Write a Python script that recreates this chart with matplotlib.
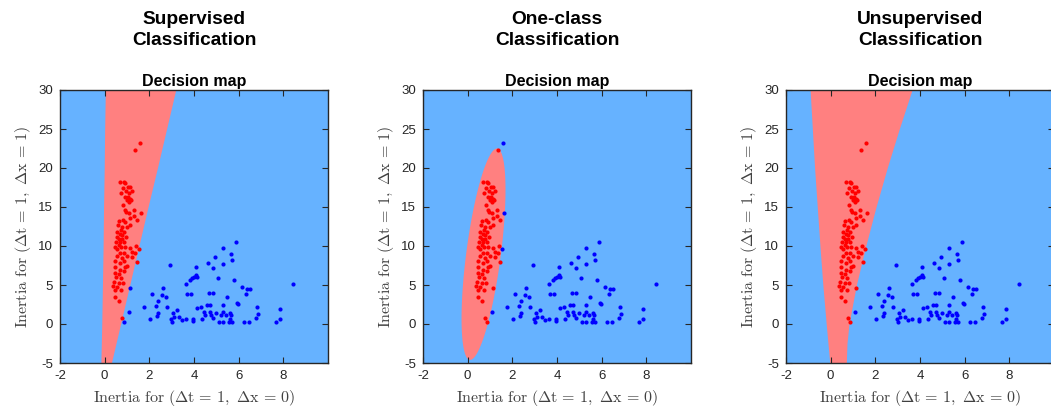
import numpy as np
import matplotlib
matplotlib.use("Agg")
import matplotlib.pyplot as plt

## Data ##
# red class points
red_x = [1.38, 0.67, 0.88, 0.93, 1.05, 1.15, 0.82, 1.23, 1.08, 0.97, 0.75, 1.05, 1.0, 1.15, 0.9,
         0.82, 1.08, 1.2, 1.33, 0.9, 0.97, 1.08, 1.15, 1.3, 1.45, 0.63, 0.82, 0.93, 0.58, 0.78,
         1.0, 1.15, 0.75, 0.55, 0.88, 0.7, 0.78, 0.97, 0.55, 0.63, 0.78, 0.52, 0.7, 0.88, 0.63,
         0.48, 0.75, 0.93, 0.55, 1.12, 1.42, 1.35, 1.23, 0.67, 0.85, 0.55, 1.0, 0.78, 1.23, 0.48,
         0.67, 0.88, 1.45, 0.93, 1.0, 0.48, 0.7, 0.85, 0.45, 0.63, 0.52, 0.75, 0.4, 0.63, 0.82,
         0.37, 0.55, 0.48, 0.75, 0.48, 0.63, 0.78]
red_y = [22.3, 18.25, 18.25, 18.1, 17.5, 17.5, 17.4, 17.0, 16.85, 17.0, 16.85, 16.3, 15.9, 16.0, 16.3,
         15.2, 15.7, 15.9, 14.6, 14.6, 14.3, 14.2, 13.55, 13.8, 13.3, 13.2, 13.3, 13.1, 12.7, 12.5,
         12.4, 12.7, 12.05, 11.85, 11.85, 11.6, 11.4, 11.2, 11.2, 10.85, 10.85, 10.55, 10.55, 10.55, 10.1,
         9.9, 9.9, 9.9, 9.6, 9.7, 10.0, 9.05, 9.25, 9.05, 9.05, 8.7, 8.7, 8.4, 8.6, 8.1,
         7.85, 8.1, 8.0, 7.35, 7.45, 7.35, 6.9, 6.85, 6.5, 6.4, 6.0, 5.85, 5.4, 5.2, 5.3,
         4.9, 4.7, 4.35, 4.3, 3.4, 3.0, 0.75]

# blue class points
blue_x = [1.08, 1.78, 2.02, 2.12, 2.32, 2.38, 2.38, 2.35, 2.55, 2.62, 2.73, 2.77, 2.92, 2.95, 3.03,
          3.07, 3.1, 3.25, 3.33, 3.48, 3.63, 3.65, 3.7, 3.82, 3.85, 3.93, 3.96, 3.96, 4.0, 4.08,
          4.1, 4.15, 4.12, 4.3, 4.38, 4.46, 4.5, 4.6, 4.63, 4.65, 4.72, 4.72, 4.78, 4.83, 4.85,
          4.85, 4.95, 5.0, 5.08, 5.13, 5.23, 5.28, 5.32, 5.31, 5.32, 5.32, 5.42, 5.47, 5.55, 5.62,
          5.62, 5.65, 5.65, 5.7, 5.7, 5.8, 5.9, 5.92, 5.98, 6.17, 6.25, 6.32, 6.37, 6.52, 6.48,
          6.78, 6.82, 6.85, 7.68, 7.85, 7.87, 8.43]
blue_y = [1.5, 2.2, 0.6, 3.85, 2.3, 2.95, 1.35, 1.05, 3.7, 4.65, 3.5, 2.2, 7.55, 0.6, 0.3,
          1.35, 0.95, 1.8, 0.95, 0.5, 0.6, 5.1, 3.8, 5.7, 3.9, 5.85, 0.4, 0.6, 6.05, 7.35,
          6.3, 6.0, 2.0, 2.2, 0.6, 1.6, 1.15, 2.45, 7.8, 4.0, 2.5, 1.6, 1.15, 7.15, 4.0,
          0.75, 8.6, 1.35, 5.95, 0.3, 1.15, 1.6, 9.8, 7.7, 2.45, 0.3, 1.15, 3.4, 0.3, 0.7,
          1.35, 1.15, 9.0, 0.2, 8.2, 5.7, 10.55, 2.65, 2.6, 4.7, 0.2, 3.9, 4.5, 4.5, 0.2,
          0.8, 2.2, 1.25, 0.2, 0.65, 1.9, 5.1]

# points whose predicted class changes between the three methods
edge_x = [0.88, 1.15, 1.57, 1.63, 1.53]
edge_y = [0.2, 4.6, 23.2, 14.2, 9.6]
edge_labels = {
    "Supervised\nClassification": ["b", "b", "r", "r", "r"],
    "One-class\nClassification": ["r", "r", "b", "b", "b"],
    "Unsupervised\nClassification": ["r", "r", "r", "r", "r"],
}

# decision boundaries (x of red region edges at given y)
sup_y = [-5, 0, 5, 10, 15, 20, 25, 30]
sup_left = [-0.17, -0.13, -0.1, -0.07, -0.05, -0.02, 0.0, 0.03]
sup_right = [0.3, 0.71, 1.12, 1.53, 1.94, 2.36, 2.77, 3.18]

uns_y = [-5, -2.5, 0, 5, 10, 15, 20, 25, 30]
uns_left = [-0.04, -0.12, -0.2, -0.35, -0.48, -0.6, -0.72, -0.82, -0.92]
uns_right = [0.7, 0.73, 0.82, 1.15, 1.57, 2.03, 2.53, 3.07, 3.64]

# one-class ellipse: centre and two conjugate half-diameters
ell_center = (0.71, 8.95)
ell_u = (0.6, 13.55)
ell_v = (0.78, 0.0)

## Style ##
BG_BLUE = "#66b2ff"
REGION_RED = "#ff8080"
EDGE = "#262626"
plt.rcParams["font.family"] = ["Liberation Sans", "DejaVu Sans"]
plt.rcParams["mathtext.fontset"] = "cm"
plt.rcParams["axes.unicode_minus"] = False

fig = plt.figure(figsize=(10.51, 4.12), dpi=100)
W, H = 1051, 412
lefts = [60, 423, 786]
titles = list(edge_labels.keys())


def draw_region(ax, kind):
    if kind == 0:
        ax.fill_betweenx(sup_y, sup_left, sup_right, color=REGION_RED, lw=0, zorder=1)
    elif kind == 1:
        t = np.linspace(0, 2 * np.pi, 300)
        ex = ell_center[0] + ell_u[0] * np.cos(t) + ell_v[0] * np.sin(t)
        ey = ell_center[1] + ell_u[1] * np.cos(t) + ell_v[1] * np.sin(t)
        ax.fill(ex, ey, color=REGION_RED, lw=0, zorder=1)
    else:
        ax.fill_betweenx(uns_y, uns_left, uns_right, color=REGION_RED, lw=0, zorder=1)


for i, (left, title) in enumerate(zip(lefts, titles)):
    ax = fig.add_axes([left / W, (412 - 363) / H, 268 / W, 273 / H])
    ax.set_facecolor(BG_BLUE)
    draw_region(ax, i)

    ax.plot(red_x, red_y, "o", color="red", ms=3, mew=0, zorder=3)
    ax.plot(blue_x, blue_y, "o", color="blue", ms=3, mew=0, zorder=3)
    for ex, ey, c in zip(edge_x, edge_y, edge_labels[title]):
        ax.plot(ex, ey, "o", color="red" if c == "r" else "blue", ms=3, mew=0, zorder=3)

    ax.set_xlim(-2, 10)
    ax.set_ylim(-5, 30)
    ax.set_xticks([-2, 0, 2, 4, 6, 8])
    ax.set_yticks([-5, 0, 5, 10, 15, 20, 25, 30])
    ax.tick_params(direction="in", top=True, right=True, length=4, width=0.8,
                   colors=EDGE, labelsize=9.5, pad=5)
    for s in ax.spines.values():
        s.set_color(EDGE)
        s.set_linewidth(1.0)

    ax.set_title("Decision map", fontsize=11.5, fontweight="bold", pad=3)
    ax.set_xlabel(r"$\mathrm{Inertia\ for\ }(\Delta\mathrm{t}\,=\,1,\ \Delta\mathrm{x}\,=\,0)$",
                  fontsize=11.5, color="#404040", labelpad=4)
    ax.set_ylabel(r"$\mathrm{Inertia\ for\ }(\Delta\mathrm{t}\,=\,1,\ \Delta\mathrm{x}\,=\,1)$",
                  fontsize=11.5, color="#404040", labelpad=4)

    cx = (left + 134) / W
    fig.text(cx, 1 - 30 / H, title, ha="center", va="center", fontsize=13.8,
             fontweight="bold", linespacing=1.35)

fig.savefig("out.png", dpi=100)
